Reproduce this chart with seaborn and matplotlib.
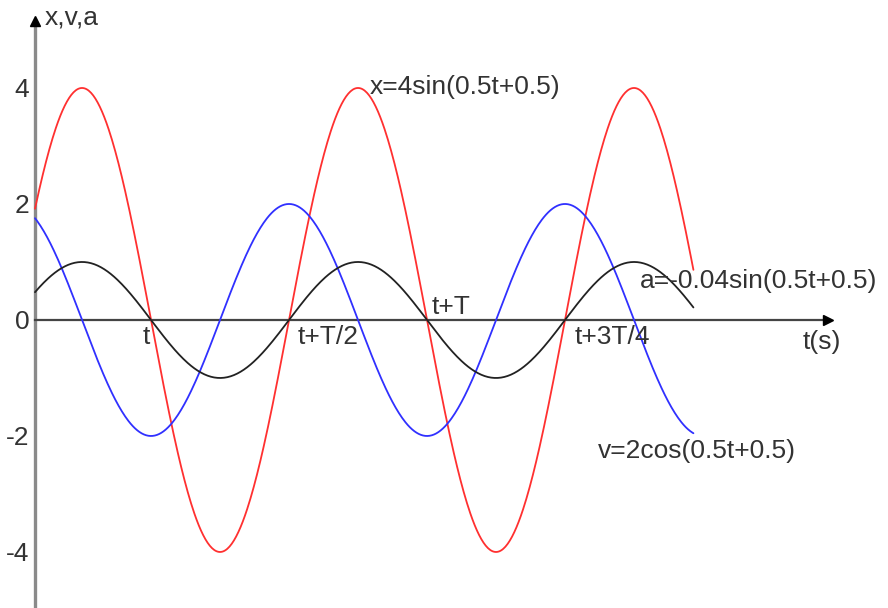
import numpy as np
import pandas as pd
import seaborn as sns
import matplotlib.pyplot as plt

# curves: amp * f(omega*t + phase)
series = ['x', 'v', 'a']
amps = [4, 2, 1]          # a is drawn scaled up to amplitude 1
funcs = ['sin', 'cos', 'sin']
omega = 0.5
phase = 0.5
t_end = 29.98
colors = {'x': '#ff3030', 'v': '#3030ff', 'a': '#222222'}

labels = ['x=4sin(0.5t+0.5)', 'v=2cos(0.5t+0.5)', 'a=-0.04sin(0.5t+0.5)']
label_pos = [(15.25, 4.02), (25.64, -2.26), (27.55, 0.67)]

yticks = [-4, -2, 0, 2, 4]
cross_labels = ['t', 't+T/2', 't+T', 't+3T/4']
minor_t = [5, 10, 15, 20, 25, 30]

t = np.linspace(0, t_end, 600)
rows = []
for name, A, f in zip(series, amps, funcs):
    fn = np.sin if f == 'sin' else np.cos
    rows.append(pd.DataFrame({'t': t, 'val': A * fn(omega * t + phase), 'series': name}))
df = pd.concat(rows)

sns.set_style('white')
plt.rcParams['font.family'] = ['Liberation Sans', 'DejaVu Sans']
txt = '#333333'
fs = 19

fig = plt.figure(figsize=(8.88, 6.08), dpi=100)
ax = fig.add_axes([0, 0, 1, 1])
sns.lineplot(data=df, x='t', y='val', hue='series', palette=colors,
             legend=False, linewidth=1.3, ax=ax)

ax.set_xlim(-1.594, 38.84)
ax.set_ylim(-4.966, 5.517)
ax.set_xlabel('')
ax.set_ylabel('')

for s in ['top', 'right']:
    ax.spines[s].set_visible(False)
ax.spines['left'].set_position(('data', 0))
ax.spines['bottom'].set_position(('data', 0))
ax.spines['left'].set_color('#8a8a8a')
ax.spines['left'].set_linewidth(2.4)
ax.spines['left'].set_bounds(-5, 5.05)
ax.spines['bottom'].set_color('#444444')
ax.spines['bottom'].set_linewidth(1.6)
ax.spines['bottom'].set_bounds(0, 36.0)
ax.spines['left'].set_zorder(1)
ax.spines['bottom'].set_zorder(1)

# arrow heads
ax.plot([0], [5.16], marker='^', color='black', markersize=7, clip_on=False)
ax.plot([36.1], [0], marker='>', color='black', markersize=7, clip_on=False)

ax.set_yticks(yticks)
ax.set_yticklabels([str(v) for v in yticks])
ax.tick_params(axis='y', direction='in', length=8, width=1.4, color='#333333',
               labelsize=fs, labelcolor=txt, pad=4)
ax.set_xticks(minor_t)
ax.set_xticklabels([])
ax.tick_params(axis='x', direction='inout', length=3, width=1, color='#aaaaaa')

# labels at the zero crossings of x
crossings = [2 * ((k + 1) * np.pi - phase) for k in range(4)]
offsets = [(-8, -5, 'top'), (9, -5, 'top'), (5, 1, 'bottom'), (10, -5, 'top')]
for c, lab, (dx, dy, va) in zip(crossings, cross_labels, offsets):
    ax.annotate(lab, (c, 0), xytext=(dx, dy), textcoords='offset pixels',
                ha='left', va=va, fontsize=fs, color=txt)

for lab, (lx, ly) in zip(labels, label_pos):
    ax.text(lx, ly, lab, ha='left', va='center', fontsize=fs, color=txt)

ax.text(34.93, -0.38, 't(s)', ha='left', va='center', fontsize=fs, color=txt)
ax.text(0.455, 5.21, 'x,v,a', ha='left', va='center', fontsize=fs, color=txt)

fig.savefig('out.png', dpi=100)
